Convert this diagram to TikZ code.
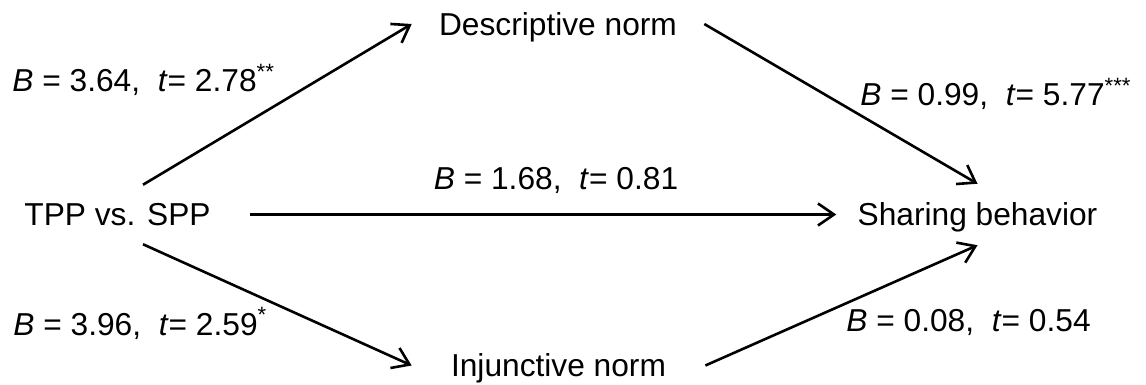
\documentclass[tikz,border=0pt]{standalone}
\usepackage{fontspec}
\setmainfont{Liberation Sans}
\usepackage{tikz}
\usetikzlibrary{arrows.meta,positioning}

\begin{document}
\begin{tikzpicture}[x=0.5pt,y=-0.5pt,>={Straight Barb[length=8pt,width=11pt]},
    font={\fontsize{15.85pt}{19pt}\selectfont},
    var/.style={inner ysep=0pt,text height=11.35pt,text depth=0pt},
    coef/.style={anchor=base west,inner sep=0pt},
    link/.style={->,line width=1.3pt}]
  \useasboundingbox (0,0) rectangle (1146,385);
  % variables
  \node[var,inner xsep=19.5pt,inner ysep=9pt] (tpp) at (117.5,214.5) {TPP vs. SPP};
  \node[var,inner xsep=13.5pt] (desc) at (558,24) {Descriptive norm};
  \node[var,inner xsep=19.5pt] (inj) at (558.5,365.5) {Injunctive norm};
  \node[var,inner xsep=10.5pt,inner ysep=9.5pt] (share) at (977.5,214.5) {Sharing behavior};
  % paths
  \draw[link] ([xshift=12.75pt]tpp.north) -- (desc.west);
  \draw[link] ([xshift=12.75pt]tpp.south) -- (inj.west);
  \draw[link] (tpp.east) -- (share.west);
  \draw[link] (desc.east) -- (share.north);
  \draw[link] (inj.east) -- (share.south);
  % coefficients
  \node[coef] (a1) at (12,92) {\textit{B} = 3.64, \ \textit{t}= 2.78\textsuperscript{**}};
  \node[coef] (a2) at (13,335) {\textit{B} = 3.96, \ \textit{t}= 2.59\textsuperscript{*}};
  \node[coef,anchor=base] (c) at (556,190) {\textit{B} = 1.68, \ \textit{t}= 0.81};
  \node[coef] (b1) at (860,106) {\textit{B} = 0.99, \ \textit{t}= 5.77\textsuperscript{***}};
  \node[coef] (b2) at (846,331) {\textit{B} = 0.08, \ \textit{t}= 0.54};
\end{tikzpicture}
\end{document}
